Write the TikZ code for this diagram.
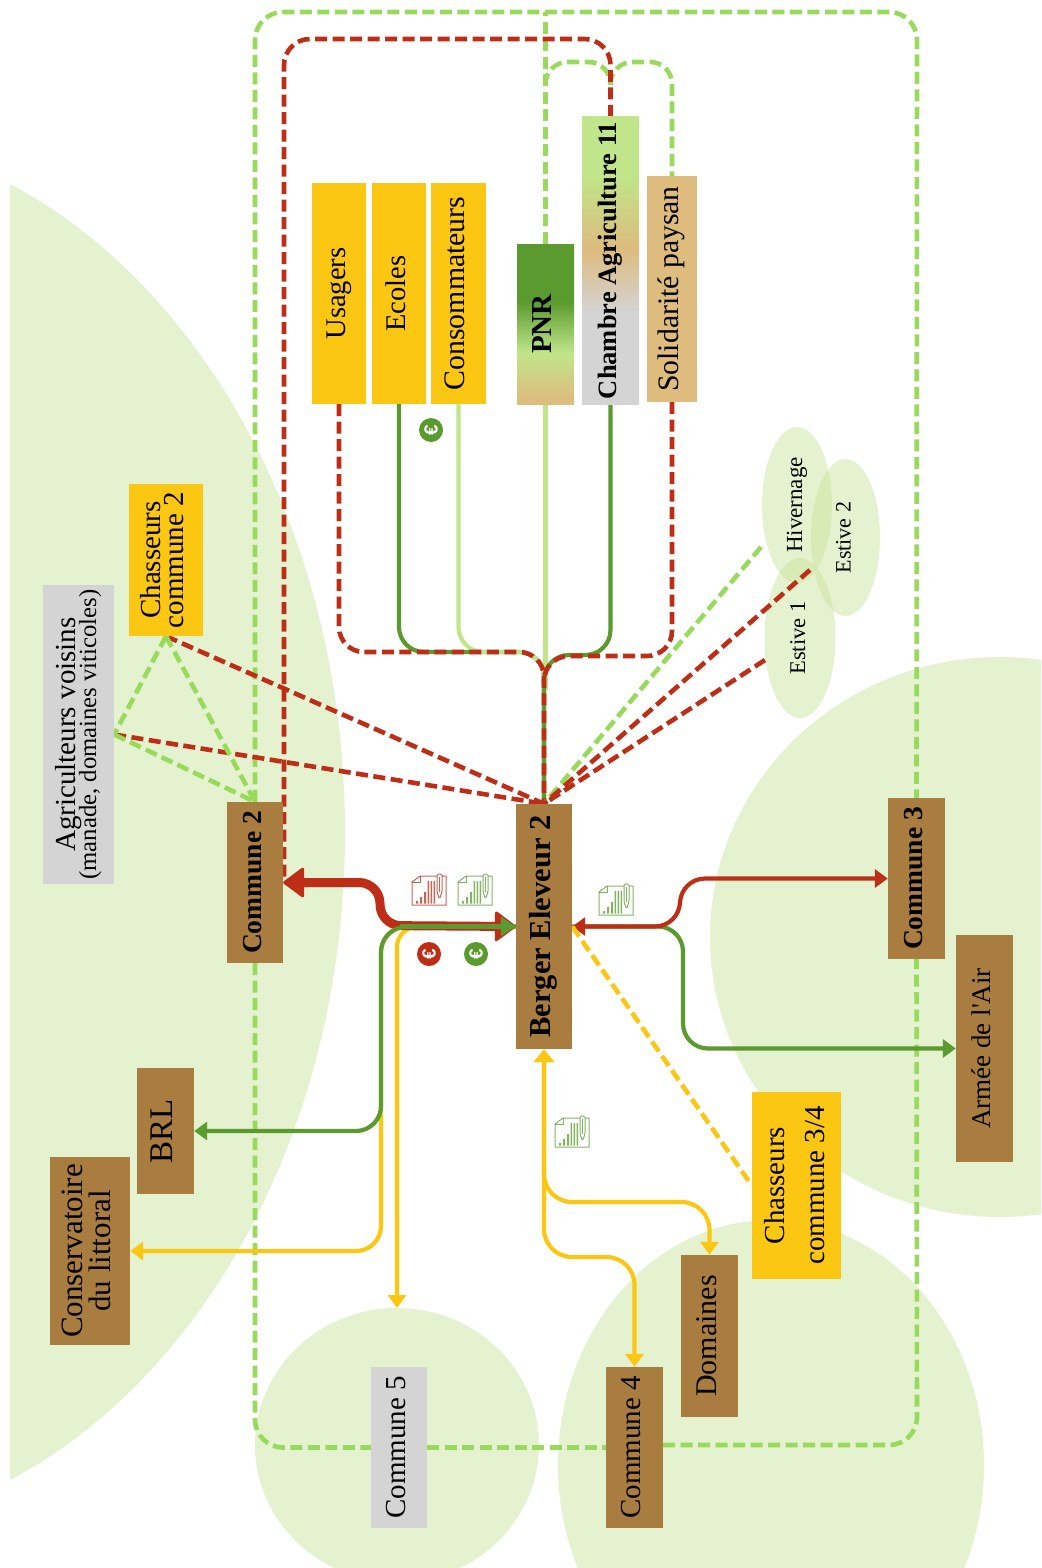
\documentclass[tikz,border=0pt]{standalone}
\usepackage{fontspec}
\usepackage{graphicx}
\setmainfont{Liberation Serif}
\newfontfamily\eurofont{Liberation Sans}
\usetikzlibrary{arrows.meta,shapes.geometric}
\pgfdeclarelayer{areas}
\pgfdeclarelayer{conn}
\pgfsetlayers{areas,conn,main}
\definecolor{cbrown}{HTML}{A97D3F}
\definecolor{cyellow}{HTML}{FCC712}
\definecolor{cgrey}{HTML}{D4D4D4}
\definecolor{ctan}{HTML}{DDBC7E}
\definecolor{cdark}{HTML}{5A9A2E}
\definecolor{clight}{HTML}{C0E58A}
\definecolor{cdash}{HTML}{98DA5B}
\definecolor{cred}{HTML}{BE2E17}
\definecolor{carea}{HTML}{E5F2CF}
\definecolor{carea2}{HTML}{CBE59F}
\pgfdeclareverticalshading{pnrshade}{100bp}{color(0bp)=(ctan); color(26bp)=(ctan); color(41bp)=(clight); color(57bp)=(cdark); color(100bp)=(cdark)}
\pgfdeclareverticalshading{chshade}{100bp}{color(0bp)=(cgrey); color(41bp)=(cgrey); color(52bp)=(ctan); color(65bp)=(clight); color(100bp)=(clight)}
\newcommand\vtxt[3]{\rotatebox{90}{\fontsize{#1}{#2}\selectfont\begin{tabular}{@{}c@{}}#3\end{tabular}}}
\tikzset{
  base/.style={rectangle,inner sep=0pt,text=black},
  brownbox/.style={base,fill=cbrown},
  yellowbox/.style={base,fill=cyellow},
  greybox/.style={base,fill=cgrey},
  tanbox/.style={base,fill=ctan},
  area/.style={ellipse,inner sep=0pt,fill=carea2,fill opacity=.5,text opacity=1},
  solidline/.style={line width=4.2pt},
  dashline/.style={line width=4.6pt,dash pattern=on 12pt off 5.5pt},
  tipS/.style={-{Triangle[length=13pt,width=18pt]}},
  tipB/.style={{Triangle[length=13pt,width=20pt]}-{Triangle[length=13pt,width=18pt]}},
  eurobadge/.style={circle,fill=#1,minimum size=24pt,inner sep=0pt,text=white,font=\eurofont\bfseries\fontsize{19}{19}\selectfont},
  docicon/.pic={
    \begin{scope}[draw=#1,draw opacity=.75,fill=#1,fill opacity=.75,line width=1pt]
      \draw (0,9) -- (8,3) -- (34,3) -- (34,32) -- (0,32) -- cycle;
      \draw (0,9) -- (8,9) -- (8,3);
      \fill (4,28) rectangle (6,30.5) (8,24) rectangle (10,30.5) (12,19) rectangle (14,30.5) (15.5,8) rectangle (17,30.5) (18.5,8) rectangle (20,30.5) (21.5,8) rectangle (23,30.5);
      \draw[fill=white,fill opacity=1,rounded corners=1.5pt] (25,1) -- (30,1) -- (30,19) -- (27.5,26) -- (25,19) -- cycle;
      \draw (27.5,4) -- (27.5,19);
    \end{scope}
  }
}
\begin{document}
\begin{tikzpicture}[x=1pt,y=-1pt]
\useasboundingbox (0,0) rectangle (1041,1568);
% background areas
\begin{pgfonlayer}{areas}
\begin{scope}
  \clip (10,0) rectangle (1041,1568);
  \fill[carea] (-194,832) ellipse [x radius=539,y radius=700];
  \fill[carea] (1000,937) ellipse [x radius=290,y radius=280];
  \fill[carea] (771,1465) ellipse [x radius=213,y radius=245];
  \fill[carea] (397,1445) ellipse [x radius=142,y radius=137];
\end{scope}
\node[area,minimum width=70,minimum height=156] (hiv) at (797,505) {\vtxt{23}{26}{Hivernage}};
\node[area,minimum width=69,minimum height=157] (est2) at (845.5,537.5) {\vtxt{22}{25}{Estive 2}};
\node[area,minimum width=71,minimum height=160] (est1) at (800,638) {\vtxt{22.5}{25}{Estive 1}};
\end{pgfonlayer}
% boxes
\node[brownbox,minimum width=56,minimum height=245] (berger) at (544,926.5) {\vtxt{30.5}{33}{\bfseries Berger Eleveur 2}};
\node[brownbox,minimum width=56,minimum height=161] (c2) at (255,882.5) {\vtxt{27.5}{30}{\bfseries Commune 2}};
\node[brownbox,minimum width=57,minimum height=161] (c3) at (916.5,878.5) {\vtxt{27.5}{30}{\bfseries Commune 3}};
\node[brownbox,minimum width=57,minimum height=227] (armee) at (984.5,1048.5) {\vtxt{27}{30}{Armée de l\textquotesingle Air}};
\node[brownbox,minimum width=57,minimum height=126] (brl) at (165.5,1131) {\vtxt{33}{36}{BRL}};
\node[brownbox,minimum width=80,minimum height=188] (cons) at (90,1251) {\vtxt{31}{28}{Conservatoire\\[-2pt]du littoral}};
\node[greybox,minimum width=56,minimum height=161] (c5) at (399,1447.5) {\vtxt{29}{32}{Commune 5}};
\node[brownbox,minimum width=57,minimum height=161] (c4) at (634.5,1447.5) {\vtxt{29}{32}{Commune 4}};
\node[brownbox,minimum width=57,minimum height=162] (dom) at (709.5,1336) {\vtxt{30}{33}{Domaines}};
\node[yellowbox,minimum width=89,minimum height=187] (ch34) at (796.5,1185.5) {\vtxt{29}{40}{Chasseurs\\commune 3/4}};
\node[yellowbox,minimum width=74,minimum height=152] (ch2) at (166,560) {\vtxt{29}{26}{Chasseurs\\[-3.5pt]commune 2}};
\node[greybox,minimum width=71,minimum height=299] (agri) at (78.5,734.5) {\rotatebox{90}{\begin{tabular}{@{}c@{}}\fontsize{29}{26}\selectfont Agriculteurs voisins\\[-3pt]\fontsize{24.7}{24}\selectfont (manade, domaines viticoles)\end{tabular}}};
\node[yellowbox,minimum width=54,minimum height=221] (usa) at (339,293.5) {\vtxt{28.5}{30}{Usagers}};
\node[yellowbox,minimum width=54,minimum height=221] (eco) at (399,293.5) {\vtxt{28.5}{30}{Ecoles}};
\node[yellowbox,minimum width=55,minimum height=221] (conso) at (458.5,293.5) {\vtxt{29.8}{32}{Consommateurs}};
\node[base,shade,shading=pnrshade,minimum width=57,minimum height=160] (pnr) at (545.5,324) {\vtxt{29}{32}{\bfseries PNR}};
\node[base,shade,shading=chshade,minimum width=57,minimum height=287] (cha) at (610.5,260.5) {\vtxt{26.5}{29}{\bfseries Chambre Agriculture 11}};
\node[tanbox,minimum width=50,minimum height=226] (sol) at (672,289) {\vtxt{29.7}{32}{Solidarité paysan}};
% free ends and junctions
\coordinate (endhiv) at (761,547);
\coordinate (endmid) at (810,570);
\coordinate (endest) at (765,660);
\coordinate (junc) at (544,682);
\coordinate (j1) at (545.5,85);
\coordinate (j2) at (610.5,85);
\begin{pgfonlayer}{conn}
% surrounding dashed ring
\draw[dashline,cdash,rounded corners=28] (c2.north) -- (255,12) -- (917,12) -- (c3.north);
\draw[dashline,cdash,rounded corners=28] (c2.south) -- (255,1447.5) -- (c5.west);
\draw[dashline,cdash] (c5.east) -- (c4.west);
\draw[dashline,cdash,rounded corners=28] ([yshift=2.5pt]c4.east) -- (917,1445) -- (c3.south);
\draw[dashline,cdash] (pnr.north) -- (545.5,12);
\draw[dashline,cdash,rounded corners=22] (j1) -- (545.5,62) -- (610.5,62) -- (j2);
\draw[dashline,cdash,rounded corners=22] (j2) -- (610.5,62) -- (672,62) -- (sol.north);
\draw[dashline,cred,rounded corners=26] (cha.north) -- (610.5,39) -- (284,39) -- (284,880);
% tree above the shepherd
\draw[solidline,cdark,rounded corners=25] (eco.south) -- (399,652) -- (544,652) -- (berger.north);
\draw[solidline,clight,rounded corners=25] (conso.south) -- (458.5,652) -- (544,652) -- (berger.north);
\draw[solidline,clight] (pnr.south) -- (545.5,690);
\draw[solidline,cdark,rounded corners=25] (cha.south) -- (610.5,655) -- (544,655) -- (berger.north);
\draw[dashline,cred,rounded corners=25] (usa.south) -- (339,652) -- (544,652) -- (berger.north);
\draw[dashline,cred,rounded corners=25] (sol.south) -- (672,656) -- (544,656) -- (junc);
% straight dashed links
\draw[dashline,cdash] (endhiv) -- (berger.north);
\draw[dashline,cred] (endmid) -- (berger.north);
\draw[dashline,cred] (endest) -- (berger.north);
\draw[dashline,cred] (ch2.south) -- (berger.north);
\draw[dashline,cred] (agri.east) -- (berger.north);
\draw[dashline,cdash] (ch2.south) -- (agri.east);
\draw[dashline,cdash] (agri.east) -- (c2.north);
\draw[dashline,cdash] (ch2.south) -- (c2.north);
% flows on the left
\draw[solidline,cyellow,tipS,rounded corners=25] (berger.west) -- (381,927) -- (381,1251) -- (cons.east);
\draw[solidline,cyellow,tipS,rounded corners=20] (berger.west) -- (397,927) -- (397,1308);
\draw[line width=9pt,cred,rounded corners=21,{Triangle[round,length=22pt,width=32pt,line width=3pt]}-{Triangle[round,length=22pt,width=32pt,line width=3pt]}] (c2.east) -- (380,882.5) -- (380,925.5) -- (berger.west);
\draw[solidline,cdark,tipS,rounded corners=25] (berger.west) -- (381,927) -- (381,1131) -- (brl.east);
\draw[solidline,cdark,-{Triangle[length=15pt,width=19pt]}] (400,926.5) -- (berger.west);
% flows on the right
\draw[solidline,cdark,tipS,rounded corners=25] (berger.east) -- (683,926.5) -- (683,1048.5) -- (armee.west);
\draw[solidline,cred,{Triangle[length=13pt,width=18pt]}-{Triangle[length=13pt,width=18pt]},rounded corners=25] (berger.east) -- (680,926.5) -- (680,878.5) -- (c3.west);
\draw[line width=4.6pt,cyellow,dash pattern=on 12pt off 5.5pt] (berger.east) -- (ch34.west);
% flows below
\draw[solidline,cyellow,tipB,rounded corners=28] (berger.south) -- (544,1202) -- (709.5,1202) -- (dom.north);
\draw[solidline,cyellow,tipB,rounded corners=28] (berger.south) -- (544,1257) -- (634.5,1257) -- (c4.north);
\end{pgfonlayer}
% documents and payments
\pic at (412,873) {docicon=cred};
\pic at (458,873) {docicon=cdark};
\pic at (599,883) {docicon=cdark};
\pic at (555,1115) {docicon=cdark};
\node[eurobadge=cred] (eur1) at (429,954) {\rotatebox{90}{€}};
\node[eurobadge=cdark] (eur2) at (476,954) {\rotatebox{90}{€}};
\node[eurobadge=cdark] (eur3) at (431,430) {\rotatebox{90}{€}};
\end{tikzpicture}
\end{document}
